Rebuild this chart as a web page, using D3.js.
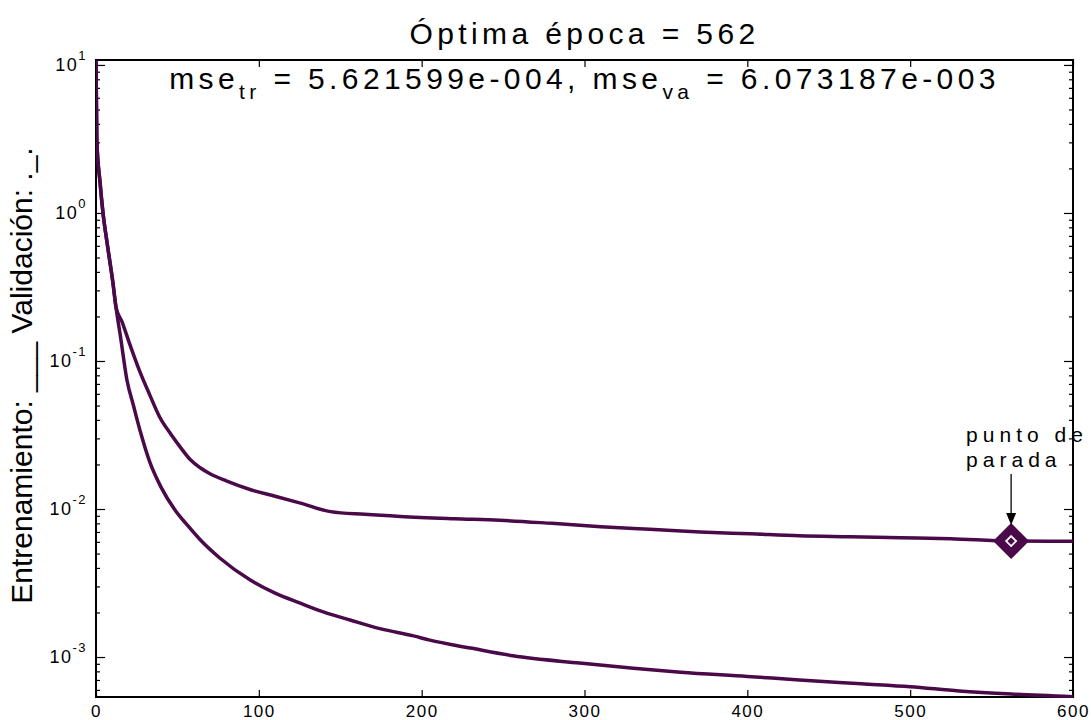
<!DOCTYPE html>
<html>
<head>
<meta charset="utf-8">
<script src="https://cdn.jsdelivr.net/npm/d3@7"></script>
<style>
  body { margin: 0; background: #fff; }
  text { font-family: "Liberation Sans", Arial, sans-serif; fill: #000; }
</style>
</head>
<body>
<svg id="chart"></svg>
<script>
// ---- data ----
const val_epochs = [0, 0.5, 2.5, 4.3, 6.8, 10.4, 12.3, 16, 20.5, 27, 33, 39, 46, 52, 58, 64, 70, 80, 95, 110, 125, 144, 165, 187, 220, 248, 280, 310, 340, 371, 402, 432, 463, 494, 525, 562, 600];
const val_mse    = [10.8, 3.1, 1.6, 1.0, 0.63, 0.337, 0.23, 0.184, 0.132, 0.0843, 0.059, 0.042, 0.032, 0.026, 0.0215, 0.019, 0.0173, 0.0155, 0.0135, 0.0122, 0.011, 0.0096, 0.0092, 0.0089, 0.0086, 0.0084, 0.0080, 0.0076, 0.0073, 0.0070, 0.0068, 0.0066, 0.0065, 0.0064, 0.0063, 0.006073, 0.00605];

const tr_epochs = [0, 0.5, 2.5, 4.3, 6.8, 10.4, 12.3, 15, 19, 23, 27, 33, 40, 48.5, 56, 64, 76, 95, 110, 125, 140, 156, 175, 195, 205, 230, 256, 297, 330, 359, 400, 432, 470, 500, 530, 562, 600];
const tr_mse    = [10.8, 3.1, 1.6, 1.0, 0.63, 0.337, 0.23, 0.147, 0.0744, 0.050, 0.034, 0.0208, 0.0140, 0.00985, 0.0078, 0.0062, 0.00467, 0.0033, 0.0027, 0.00232, 0.00201, 0.00178, 0.00155, 0.00139, 0.00130, 0.00115, 0.00102, 0.00091, 0.00084, 0.00079, 0.00074, 0.00070, 0.00066, 0.00063, 0.00059, 0.000562, 0.00054];

const x_ticks = [0, 100, 200, 300, 400, 500, 600];
const y_major = [1e-3, 1e-2, 1e-1, 1, 10];
const y_exponents = ["-3", "-2", "-1", "0", "1"];

const best_epoch = 562;
const best_mse_tr = "5.621599e-004";
const best_mse_va = "6.073187e-003";
const best_value = 6.073187e-3;

// ---- layout ----
const width = 1091, height = 720;
const plot = { left: 96, right: 1073, top: 60, bottom: 697 };
const line_color = "#4a0a4a";

const svg = d3.select("#chart").attr("width", width).attr("height", height);

const x_scale = d3.scaleLinear().domain([0, 600]).range([plot.left, plot.right]);
const y_scale = d3.scaleLog().domain([5.37e-4, 10.8]).range([plot.bottom, plot.top]);

// minor ticks 2..9 per decade inside the domain
const y_minor = [];
for (let k = -4; k <= 1; k++) {
    for (let m = 2; m <= 9; m++) {
        const v = m * Math.pow(10, k);
        if (v > y_scale.domain()[0] && v < y_scale.domain()[1]) y_minor.push(v);
    }
}

// ---- axes (ticks pointing inward) ----
function add_axis(axis, tx, ty) {
    const g = svg.append("g").attr("transform", `translate(${tx},${ty})`).call(axis);
    g.select(".domain").remove();
    g.selectAll("line").attr("stroke", "#000").attr("stroke-width", 1.2);
    return g;
}

const x_bottom = add_axis(d3.axisBottom(x_scale).tickValues(x_ticks).tickSizeInner(-7).tickSizeOuter(0).tickPadding(8), 0, plot.bottom);
x_bottom.selectAll("text")
    .attr("font-size", 17).attr("letter-spacing", 1.5)
    .attr("font-family", "Liberation Sans, Arial, sans-serif");
add_axis(d3.axisTop(x_scale).tickValues(x_ticks).tickSizeInner(-7).tickSizeOuter(0).tickFormat(""), 0, plot.top);

add_axis(d3.axisLeft(y_scale).tickValues(y_major).tickSizeInner(-9).tickSizeOuter(0).tickFormat(""), plot.left, 0);
add_axis(d3.axisLeft(y_scale).tickValues(y_minor).tickSizeInner(-4).tickSizeOuter(0).tickFormat(""), plot.left, 0);
add_axis(d3.axisRight(y_scale).tickValues(y_major).tickSizeInner(-9).tickSizeOuter(0).tickFormat(""), plot.right, 0);
add_axis(d3.axisRight(y_scale).tickValues(y_minor).tickSizeInner(-4).tickSizeOuter(0).tickFormat(""), plot.right, 0);

// y tick labels with superscript exponents
y_major.forEach((v, i) => {
    const t = svg.append("text")
        .attr("x", 87).attr("y", y_scale(v) + 6)
        .attr("text-anchor", "end")
        .attr("font-size", 18).attr("letter-spacing", 1.5);
    t.append("tspan").text("10");
    t.append("tspan").attr("dy", -11).attr("font-size", 13).text(y_exponents[i]);
});

// plot box
svg.append("rect")
    .attr("x", plot.left).attr("y", plot.top)
    .attr("width", plot.right - plot.left).attr("height", plot.bottom - plot.top)
    .attr("fill", "none").attr("stroke", "#000").attr("stroke-width", 2);

// ---- curves ----
svg.append("clipPath").attr("id", "clip")
    .append("rect").attr("x", plot.left).attr("y", plot.top - 2)
    .attr("width", plot.right - plot.left + 2).attr("height", plot.bottom - plot.top + 3);

const curve = d3.line()
    .x(d => x_scale(d[0]))
    .y(d => y_scale(d[1]))
    .curve(d3.curveMonotoneX);

svg.append("path")
    .datum(d3.zip(tr_epochs, tr_mse))
    .attr("d", curve)
    .attr("clip-path", "url(#clip)")
    .attr("fill", "none").attr("stroke", line_color).attr("stroke-width", 3.5)
    .attr("stroke-linejoin", "round");

svg.append("path")
    .datum(d3.zip(val_epochs, val_mse))
    .attr("d", curve)
    .attr("clip-path", "url(#clip)")
    .attr("fill", "none").attr("stroke", line_color).attr("stroke-width", 3.5)
    .attr("stroke-linejoin", "round");

// ---- stopping point marker ----
const mx = x_scale(best_epoch), my = y_scale(best_value);
const diamond = r => `M${mx},${my - r}L${mx + r},${my}L${mx},${my + r}L${mx - r},${my}Z`;
svg.append("path").attr("d", diamond(18)).attr("fill", line_color);
svg.append("path").attr("d", diamond(5)).attr("fill", "none").attr("stroke", "#fff").attr("stroke-width", 1.8);

// arrow and label
svg.append("line")
    .attr("x1", mx).attr("x2", mx).attr("y1", my - 67).attr("y2", my - 26)
    .attr("stroke", "#000").attr("stroke-width", 1.3);
svg.append("path")
    .attr("d", `M${mx - 5},${my - 28}L${mx + 5},${my - 28}L${mx},${my - 16}Z`)
    .attr("fill", "#000");
svg.append("text").attr("x", mx - 45).attr("y", my - 99)
    .attr("font-size", 21).attr("letter-spacing", 5).text("punto de");
svg.append("text").attr("x", mx - 45).attr("y", my - 74)
    .attr("font-size", 21).attr("letter-spacing", 5).text("parada");

// ---- titles ----
const cx = (plot.left + plot.right) / 2;
svg.append("text").attr("x", cx).attr("y", 44)
    .attr("text-anchor", "middle").attr("font-size", 30).attr("letter-spacing", 4.4)
    .text(`Óptima época = ${best_epoch}`);

const sub = svg.append("text").attr("x", cx).attr("y", 89)
    .attr("text-anchor", "middle").attr("font-size", 30).attr("letter-spacing", 4.4);
sub.append("tspan").text("mse");
sub.append("tspan").attr("dy", 10).attr("font-size", 21).text("tr");
sub.append("tspan").attr("dy", -10).text(` = ${best_mse_tr}, mse`);
sub.append("tspan").attr("dy", 10).attr("font-size", 21).text("va");
sub.append("tspan").attr("dy", -10).text(` = ${best_mse_va}`);

// y label
svg.append("text")
    .attr("transform", `translate(32,${(plot.top + plot.bottom) / 2 - 3}) rotate(-90)`)
    .attr("text-anchor", "middle").attr("font-size", 30)
    .text("Entrenamiento: ___  Validación: ._.");
</script>
</body>
</html>
